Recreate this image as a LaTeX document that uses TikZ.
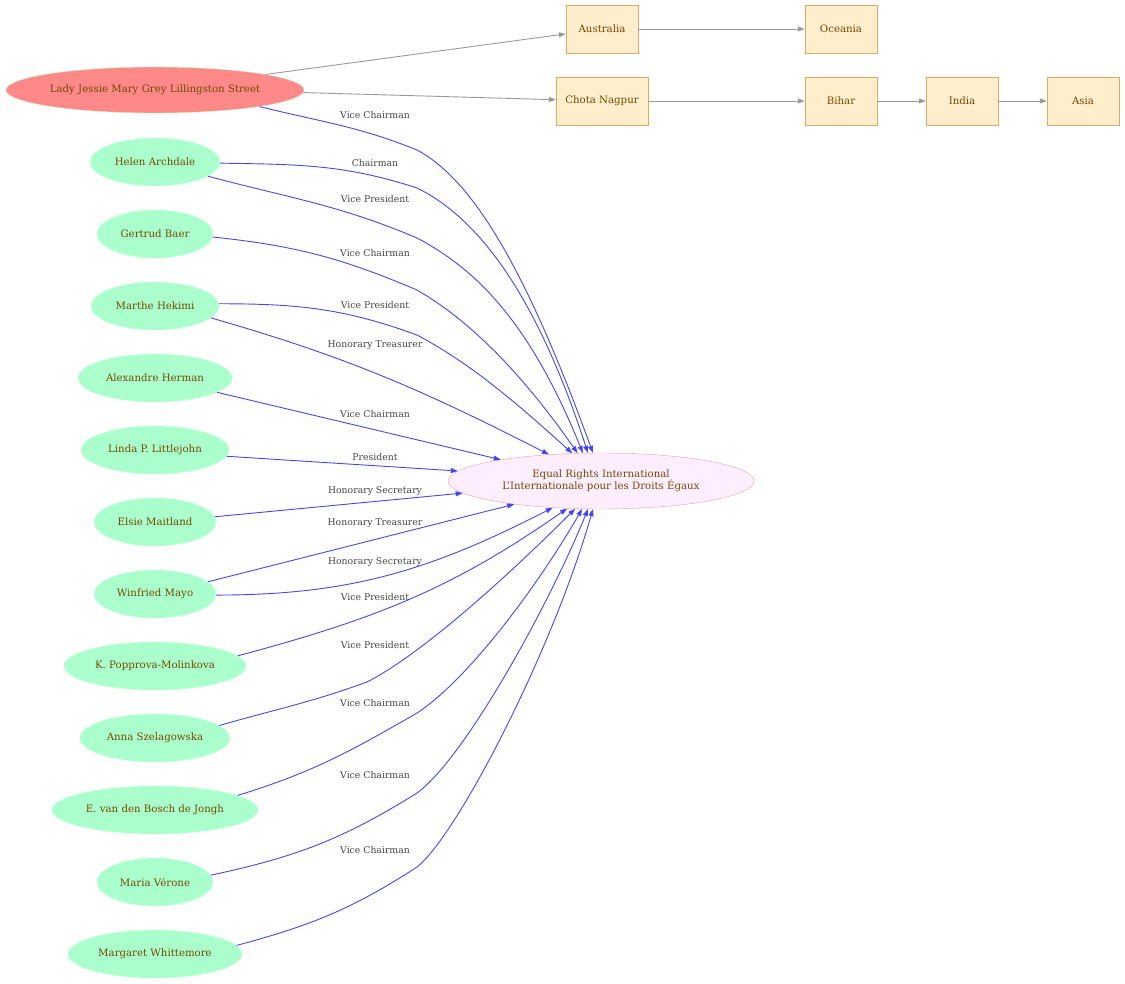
\documentclass[tikz,border=0pt]{standalone}
\usepackage{fontspec}
\setmainfont{DejaVu Serif}
\usetikzlibrary{arrows.meta,shapes.geometric}
\definecolor{txt}{RGB}{115,72,0}
\definecolor{lbltxt}{RGB}{68,68,68}
\definecolor{blueedge}{RGB}{68,68,255}
\definecolor{grayedge}{RGB}{153,153,153}
\definecolor{ladyfill}{RGB}{255,136,136}
\definecolor{ladydraw}{RGB}{200,240,192}
\definecolor{persfill}{RGB}{170,255,204}
\definecolor{persdraw}{RGB}{200,255,220}
\definecolor{orgfill}{RGB}{255,238,255}
\definecolor{orgdraw}{RGB}{232,160,160}
\definecolor{boxfill}{RGB}{255,238,204}
\definecolor{boxdraw}{RGB}{221,170,102}
\tikzset{
  pers/.style={ellipse, fill=persfill, draw=persdraw, inner sep=0pt, minimum height=48pt, text=txt, font=\fontsize{10.2}{12}\selectfont},
  ladynode/.style={ellipse, fill=ladyfill, draw=ladydraw, inner sep=0pt, minimum width=298pt, minimum height=46pt, text=txt, font=\fontsize{10.2}{12}\selectfont},
  orgnode/.style={ellipse, fill=orgfill, draw=orgdraw, inner sep=0pt, minimum width=306pt, minimum height=56pt, text=txt, align=center, font=\fontsize{10.2}{12.5}\selectfont},
  place/.style={rectangle, fill=boxfill, draw=boxdraw, inner sep=0pt, minimum width=72pt, minimum height=48pt, text=txt, font=\fontsize{10.2}{12}\selectfont},
  lbl/.style={text=lbltxt, inner sep=0pt, font=\fontsize{9.3}{11}\selectfont},
  be/.style={draw=blueedge, line width=0.9pt, -{Triangle[length=7pt,width=5pt]}},
  ge/.style={draw=grayedge, line width=0.9pt, -{Triangle[length=7pt,width=5pt]}},
}
\begin{document}
\begin{tikzpicture}[x=1pt,y=1pt]
\useasboundingbox (0,0) rectangle (1125,-984);
% nodes
\node[ladynode] (lady) at (155,-90) {Lady Jessie Mary Grey Lillingston Street};
\node[pers, minimum width=130pt] (helen) at (155,-162) {Helen Archdale};
\node[pers, minimum width=116pt] (gertrud) at (155,-234) {Gertrud Baer};
\node[pers, minimum width=128pt] (marthe) at (155,-306) {Marthe Hekimi};
\node[pers, minimum width=154pt] (alex) at (155,-378) {Alexandre Herman};
\node[pers, minimum width=148pt] (linda) at (155,-450) {Linda P. Littlejohn};
\node[pers, minimum width=122pt] (elsie) at (155,-522) {Elsie Maitland};
\node[pers, minimum width=122pt] (winf) at (155,-594) {Winfried Mayo};
\node[pers, minimum width=182pt] (kpop) at (155,-666) {K. Popprova-Molinkova};
\node[pers, minimum width=150pt] (anna) at (155,-738) {Anna Szelagowska};
\node[pers, minimum width=206pt] (ejongh) at (155,-810) {E. van den Bosch de Jongh};
\node[pers, minimum width=116pt] (maria) at (155,-882) {Maria Vérone};
\node[pers, minimum width=174pt] (marg) at (155,-954) {Margaret Whittemore};
\node[orgnode] (eri) at (601,-481) {Equal Rights International\\L'Internationale pour les Droits Égaux};
\node[place] (aus) at (602,-29) {Australia};
\node[place] (oce) at (841,-29) {Oceania};
\node[place, minimum width=92pt] (chota) at (602,-101) {Chota Nagpur};
\node[place] (bihar) at (841,-101) {Bihar};
\node[place] (india) at (962,-101) {India};
\node[place] (asia) at (1083,-101) {Asia};
% gray edges
\draw[ge] (lady.8) -- (aus);
\draw[ge] (lady.-1) -- (chota);
\draw[ge] (aus) -- (oce);
\draw[ge] (chota) -- (bihar);
\draw[ge] (bihar) -- (india);
\draw[ge] (india) -- (asia);
% bend coordinates
\coordinate (b1) at (417,-150);
\coordinate (b2) at (417,-188);
\coordinate (b3) at (417,-238);
\coordinate (b4) at (417,-290);
\coordinate (b5) at (417,-335);
\coordinate (b13) at (367,-682);
\coordinate (b14) at (417,-713);
\coordinate (b15) at (417,-793);
\coordinate (b16) at (417,-867);
% blue edges
\draw[be] (lady.-9) to[out=-14,in=158] (b1) .. controls +(-28:65) and +(110:190) .. (eri.106);
\draw[be] (helen.-1) to[out=-1,in=162] (b2) .. controls +(-26:60) and +(108:180) .. (eri.115);
\draw[be] (helen.-15) to[out=-15,in=157] (b3) .. controls +(-28:60) and +(112:150) .. (eri.123);
\draw[be] (gertrud.-3) to[out=-6,in=157] (b4) .. controls +(-30:60) and +(125:100) .. (eri.130);
\draw[be] (marthe.2) to[out=0,in=160] (b5) .. controls +(-28:60) and +(138:80) .. (eri.136);
\draw[be] (marthe.-12) to[out=-16,in=153] (eri.153);
\draw[be] (alex.-13) -- (eri.168);
\draw[be] (linda.-5) -- (eri.176);
\draw[be] (elsie.5) -- (eri.185);
\draw[be] (winf.13) -- (eri.195);
\draw[be] (winf.-1) to[out=0,in=207] (eri.209);
\draw[be] (kpop.7) to[out=15,in=215] (eri.219);
\draw[be] (anna.11) to[out=16,in=200] (b13) .. controls +(27:60) and +(225:100) .. (eri.227);
\draw[be] (ejongh.10) to[out=17,in=210] (b14) .. controls +(33:60) and +(240:90) .. (eri.236);
\draw[be] (maria.7) to[out=12,in=212] (b15) .. controls +(36:60) and +(248:100) .. (eri.245);
\draw[be] (marg.6) to[out=15,in=213] (b16) .. controls +(38:50) and +(254:150) .. (eri.254);
% labels
\node[lbl] (l1) at (375,-115) {Vice Chairman};
\node[lbl] (l2) at (375,-163) {Chairman};
\node[lbl] (l3) at (375,-199) {Vice President};
\node[lbl] (l4) at (375,-253) {Vice Chairman};
\node[lbl] (l5) at (375,-305) {Vice President};
\node[lbl] (l6) at (375,-345) {Honorary Treasurer};
\node[lbl] (l7) at (375,-414) {Vice Chairman};
\node[lbl] (l8) at (375,-457) {President};
\node[lbl] (l9) at (375,-491) {Honorary Secretary};
\node[lbl] (l10) at (375,-523) {Honorary Treasurer};
\node[lbl] (l11) at (375,-562) {Honorary Secretary};
\node[lbl] (l12) at (375,-597) {Vice President};
\node[lbl] (l13) at (375,-645) {Vice President};
\node[lbl] (l14) at (375,-703) {Vice Chairman};
\node[lbl] (l15) at (375,-775) {Vice Chairman};
\node[lbl] (l16) at (375,-850) {Vice Chairman};
\end{tikzpicture}
\end{document}
